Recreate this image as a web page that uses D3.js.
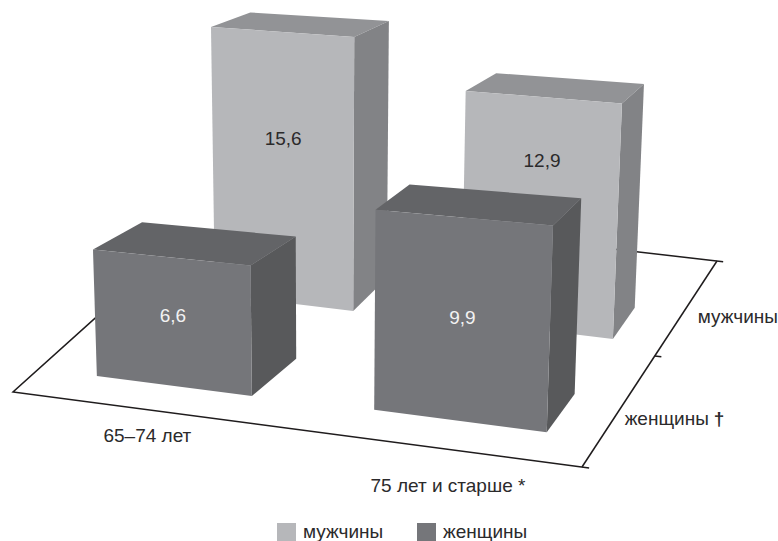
<!DOCTYPE html>
<html lang="ru">
<head>
<meta charset="utf-8">
<script src="https://cdn.jsdelivr.net/npm/d3@7"></script>
<style>
  html, body { margin: 0; padding: 0; background: #fff; }
  svg { display: block; }
  text { font-family: "Liberation Sans", Arial, sans-serif; font-size: 19px; fill: #2b2a2b; }
</style>
</head>
<body>
<svg id="chart" width="778" height="541"></svg>
<script>
// Data
const ageGroups = ["65–74 лет", "75 лет и старше *"];
const sexes = ["мужчины", "женщины"];
const depthLabels = ["мужчины", "женщины"];
const depthMarks = ["", "†"];
const menValues = [15.6, 12.9];
const womenValues = [6.6, 9.9];
const valueLabels = { "мужчины": ["15,6", "12,9"], "женщины": ["6,6", "9,9"] };

// Face colours per series
const palette = {
  "мужчины": { front: "#b6b7ba", side: "#828386", top: "#929396", label: "#2b2a2b" },
  "женщины": { front: "#75767a", side: "#58595b", top: "#636467", label: "#f2f2f2" }
};

// Height along each front face at which the value label sits
const labelLift = { "мужчины": [0.607, 0.73], "женщины": [0.55, 0.51] };

// Perspective of the floor: unit square (u across, v in depth) onto the page
const floor = { a: 544.1, b: 244.78, c: 13, d: 55.02, e: -155.12, f: 392, g: -0.04278, h: 0.16116 };
function project(u, v) {
  const w = floor.g * u + floor.h * v + 1;
  return [(floor.a * u + floor.b * v + floor.c) / w, (floor.d * u + floor.e * v + floor.f) / w];
}

// Uprights converge on a far vanishing point below the page
const vanish = [325, 7800];
function raise(p, height) {
  return [p[0] + (p[0] - vanish[0]) * height / (vanish[1] - p[1]), p[1] - height];
}

// Pixels per unit of value: shrink with depth, grow slightly to the right
const depthStops = [0.115, 0.29, 0.54, 0.715];
const gainLeft = d3.scaleLinear().domain(depthStops).range([18.86, 17.5, 16.85, 15.7]);
const gainRight = d3.scaleLinear().domain(depthStops).range([21.11, 20, 18.5, 17.5]);
const pixelsPerUnit = (u, v) => d3.interpolateNumber(gainLeft(v), gainRight(v))(u);

// Footprints on the floor: front extent across, rear corner drift, front edge shift in depth
const acrossExtent = {
  "женщины": [[0.107, 0.39], [0.606, 0.908]],
  "мужчины": [[0.161, 0.428], [0.628, 0.91]]
};
const rearDrift = {
  "женщины": [[0.016, 0.016], [0.004, 0.002]],
  "мужчины": [[0.008, 0.006], [0.009, 0]]
};
const frontShift = { "женщины": [-0.005, 0.003], "мужчины": [-0.003, 0.014] };
const depthScale = d3.scaleBand().domain(["женщины", "мужчины"]).range([0.115, 0.715]).paddingInner(0.588);

const svg = d3.select("#chart");
const polyline = d3.line();

// Floor outline, with back and left edges stopping where bars hide them
const axes = svg.append("g").attr("fill", "none").attr("stroke", "#1f1c1d").attr("stroke-width", 1.5);
[
  [project(0, 0.47), project(0, 0), project(1.012, 0)],
  [project(1, 0), project(1, 1)],
  [project(0.7, 1), project(1.012, 1)],
  [project(1, 0.5), project(1.012, 0.5)]
].forEach(points => axes.append("path").attr("d", polyline(points)));

// Back row first so the front row overlaps it
const bars = [];
[["мужчины", menValues], ["женщины", womenValues]].forEach(([sex, values]) => {
  values.forEach((value, i) => bars.push({ sex, age: ageGroups[i], value, i }));
});

const barGroups = svg.append("g").selectAll("g").data(bars).join("g");
barGroups.each(function (d) {
  const group = d3.select(this);
  const colours = palette[d.sex];
  const [u0, u1] = acrossExtent[d.sex][d.i];
  const [driftL, driftR] = rearDrift[d.sex][d.i];
  const v0 = depthScale(d.sex) + frontShift[d.sex][d.i];
  const v1 = depthScale(d.sex) + depthScale.bandwidth();

  const corner = (u, v) => {
    const base = project(u, v);
    return { base, top: raise(base, d.value * pixelsPerUnit(u, v)) };
  };
  const fl = corner(u0, v0), fr = corner(u1, v0), br = corner(u1 + driftR, v1), bl = corner(u0 + driftL, v1);

  const face = (points, fill) => group.append("path")
    .attr("d", polyline(points) + "Z").attr("fill", fill);
  face([fl.top, fr.top, br.top, bl.top], colours.top);
  face([fr.top, br.top, br.base, fr.base], colours.side);
  face([fl.top, fr.top, fr.base, fl.base], colours.front);

  const lift = labelLift[d.sex][d.i];
  const left = [fl.base[0] + (fl.top[0] - fl.base[0]) * lift, fl.base[1] + (fl.top[1] - fl.base[1]) * lift];
  const right = [fr.base[0] + (fr.top[0] - fr.base[0]) * lift, fr.base[1] + (fr.top[1] - fr.base[1]) * lift];
  group.append("text")
    .attr("x", (left[0] + right[0]) / 2)
    .attr("y", (left[1] + right[1]) / 2)
    .attr("dy", "0.35em")
    .attr("text-anchor", "middle")
    .style("fill", colours.label)
    .text(valueLabels[d.sex][d.i]);
});

// Category labels along the front edge
const ageOffsets = [[-6, 31], [10, 44]];
ageGroups.forEach((label, i) => {
  const p = project(0.255 + 0.5 * i, 0);
  svg.append("text").attr("x", p[0] + ageOffsets[i][0]).attr("y", p[1] + ageOffsets[i][1])
    .attr("text-anchor", "middle").text(label);
});

// Series labels along the right edge
const depthSpots = [[0.63, 66, -7], [0.2, 62, 5]];
depthLabels.forEach((label, i) => {
  const p = project(1, depthSpots[i][0]);
  const text = svg.append("text").attr("x", p[0] + depthSpots[i][1]).attr("y", p[1] + depthSpots[i][2])
    .attr("text-anchor", "middle").text(label);
  if (depthMarks[i]) text.append("tspan").attr("dx", 5).attr("font-weight", "bold").text(depthMarks[i]);
});

// Legend
const legendX = d3.scalePoint().domain(sexes).range([277, 417]);
const legend = svg.append("g").selectAll("g").data(sexes).join("g")
  .attr("transform", d => `translate(${legendX(d)},523)`);
legend.append("rect").attr("width", 19).attr("height", 18).attr("fill", d => palette[d].front);
legend.append("text").attr("x", 26).attr("y", 15).text(d => d);
</script>
</body>
</html>
